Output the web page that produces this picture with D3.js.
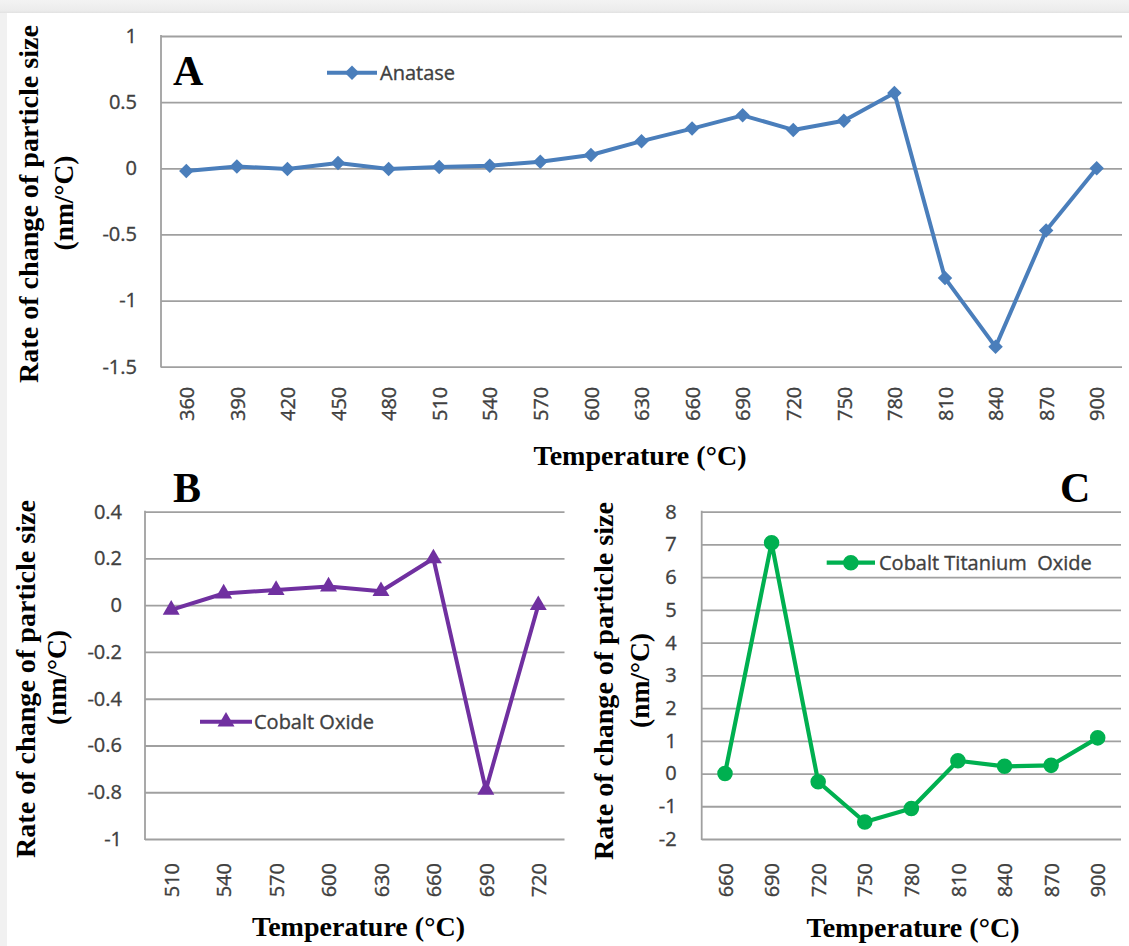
<!DOCTYPE html>
<html>
<head>
<meta charset="utf-8">
<script src="https://cdn.jsdelivr.net/npm/d3@7"></script>
<style>
  html, body { margin: 0; padding: 0; background: #ffffff; }
  svg { display: block; }
</style>
</head>
<body>
<script>
// ---------------- DATA ----------------
const tempsA = [360, 390, 420, 450, 480, 510, 540, 570, 600, 630, 660, 690, 720, 750, 780, 810, 840, 870, 900];
const anatase = [-0.02, 0.013, -0.005, 0.04, -0.005, 0.01, 0.02, 0.05, 0.1, 0.205, 0.3, 0.4, 0.29, 0.36, 0.57, -0.83, -1.35, -0.47, 0];
const ticksA = [1, 0.5, 0, -0.5, -1, -1.5];

const tempsB = [510, 540, 570, 600, 630, 660, 690, 720];
const cobaltOxide = [-0.02, 0.05, 0.065, 0.08, 0.06, 0.2, -0.79, 0];
const ticksB = [0.4, 0.2, 0, -0.2, -0.4, -0.6, -0.8, -1];

const tempsC = [660, 690, 720, 750, 780, 810, 840, 870, 900];
const cobaltTitaniumOxide = [0, 7.05, -0.25, -1.48, -1.07, 0.39, 0.22, 0.25, 1.09];
const ticksC = [8, 7, 6, 5, 4, 3, 2, 1, 0, -1, -2];

const seriesNames = ["Anatase", "Cobalt Oxide", "Cobalt Titanium  Oxide"];
const panelLetters = ["A", "B", "C"];
const yTitleLine1 = "Rate of change of particle size";
const yTitleLine2 = "(nm/°C)";
const xTitle = "Temperature (°C)";

// ---------------- LAYOUT ----------------
const W = 1129, H = 946;
const panels = [
  { temps: tempsA, values: anatase, ticks: ticksA, name: seriesNames[0], letter: panelLetters[0],
    left: 161, right: 1122, top: 36, bottom: 366.7, color: "#4A7EBB", marker: "diamond", lw: 4,
    letterX: 173, letterY: 85,
    legend: { x1: 327, x2: 377, y: 72.7, tx: 380 },
    yLabelGap: 24, xLabelGap: 20,
    xTitleX: 640, xTitleY: 465,
    yTitle: { b1: 38, b2: 73, cy1: 204, cy2: 203 } },
  { temps: tempsB, values: cobaltOxide, ticks: ticksB, name: seriesNames[1], letter: panelLetters[1],
    left: 145, right: 564.5, top: 511.7, bottom: 839, color: "#7030A0", marker: "triangle", lw: 4,
    letterX: 173, letterY: 502,
    legend: { x1: 200, x2: 252, y: 721.7, tx: 254 },
    yLabelGap: 23, xLabelGap: 24,
    xTitleX: 358.5, xTitleY: 936,
    yTitle: { b1: 35, b2: 65.5, cy1: 679, cy2: 677.5 } },
  { temps: tempsC, values: cobaltTitaniumOxide, ticks: ticksC, name: seriesNames[2], letter: panelLetters[2],
    left: 701.7, right: 1121, top: 511.7, bottom: 839, color: "#00B050", marker: "circle", lw: 4.2,
    letterX: 1060, letterY: 502,
    legend: { x1: 826.7, x2: 875, y: 562.7, tx: 879 },
    yLabelGap: 25, xLabelGap: 24,
    xTitleX: 913, xTitleY: 936.5,
    yTitle: { b1: 613, b2: 648.5, cy1: 681, cy2: 680.5 } }
];

const tickFont = "'Open Sans', 'Liberation Sans', Arial, sans-serif";
const titleFont = "'Liberation Serif', 'Times New Roman', serif";
const gridColor = "#a0a0a0";
const tickColor = "#404040";

const svg = d3.select("body").append("svg")
  .attr("width", W).attr("height", H)
  .attr("viewBox", `0 0 ${W} ${H}`);

// background frame
const defs = svg.append("defs");
const grad = defs.append("linearGradient").attr("id", "topband").attr("x1", 0).attr("y1", 0).attr("x2", 0).attr("y2", 1);
grad.append("stop").attr("offset", "0%").attr("stop-color", "#f3f3f3");
grad.append("stop").attr("offset", "80%").attr("stop-color", "#ececec");
grad.append("stop").attr("offset", "100%").attr("stop-color", "#e2e2e2");
svg.append("rect").attr("x", 0).attr("y", 0).attr("width", W).attr("height", H).attr("fill", "#ffffff");
svg.append("rect").attr("x", 0).attr("y", 0).attr("width", W).attr("height", 13).attr("fill", "url(#topband)");
svg.append("rect").attr("x", 0).attr("y", 13).attr("width", 7).attr("height", H - 13).attr("fill", "#f1f1f1");

function markerPath(type) {
  if (type === "diamond") return d3.symbol().type(d3.symbolSquare).size(105)();
  if (type === "triangle") return d3.symbol().type(d3.symbolTriangle).size(125)();
  return d3.symbol().type(d3.symbolCircle).size(190)();
}

function styleTick(sel) {
  sel.attr("fill", tickColor).attr("stroke", tickColor).attr("stroke-width", 0.35)
    .style("font-family", tickFont).style("font-size", "20px");
}

panels.forEach(p => {
  const g = svg.append("g");
  const x = d3.scalePoint().domain(p.temps).range([p.left, p.right]).padding(0.5);
  const y = d3.scaleLinear().domain([d3.min(p.ticks), d3.max(p.ticks)]).range([p.bottom, p.top]);

  // y axis with gridlines
  const yAxis = d3.axisLeft(y).tickValues(p.ticks).tickSize(-(p.right - p.left)).tickPadding(p.yLabelGap)
    .tickFormat(d => String(d));
  const ya = g.append("g").attr("transform", `translate(${p.left},0)`).call(yAxis);
  ya.select(".domain").remove();
  ya.selectAll(".tick line").attr("stroke", gridColor).attr("stroke-width", 1.8);
  styleTick(ya.selectAll(".tick text"));

  // vertical axis line
  g.append("line").attr("x1", p.left).attr("x2", p.left).attr("y1", p.top - 0.9).attr("y2", p.bottom + 0.9)
    .attr("stroke", gridColor).attr("stroke-width", 1.8);

  // x axis labels (rotated)
  const xAxis = d3.axisBottom(x).tickSize(0);
  const xa = g.append("g").attr("transform", `translate(0,${p.bottom})`).call(xAxis);
  xa.select(".domain").remove();
  const xt = xa.selectAll(".tick text")
    .attr("transform", "rotate(-90)")
    .attr("x", -p.xLabelGap).attr("y", 0).attr("dy", "0.36em")
    .style("text-anchor", "end");
  styleTick(xt);

  // series line
  const line = d3.line().x((d, i) => x(p.temps[i])).y(d => y(d));
  g.append("path").datum(p.values).attr("d", line)
    .attr("fill", "none").attr("stroke", p.color).attr("stroke-width", p.lw)
    .attr("stroke-linejoin", "round");

  // markers
  const mp = markerPath(p.marker);
  g.selectAll("path.mk").data(p.values).enter().append("path").attr("class", "mk")
    .attr("d", mp)
    .attr("transform", (d, i) => `translate(${x(p.temps[i])},${y(d)})${p.marker === "diamond" ? " rotate(45)" : ""}`)
    .attr("fill", p.color);

  // legend
  g.append("line").attr("x1", p.legend.x1).attr("x2", p.legend.x2).attr("y1", p.legend.y).attr("y2", p.legend.y)
    .attr("stroke", p.color).attr("stroke-width", p.lw);
  g.append("path").attr("d", mp)
    .attr("transform", `translate(${(p.legend.x1 + p.legend.x2) / 2},${p.legend.y})${p.marker === "diamond" ? " rotate(45)" : ""}`)
    .attr("fill", p.color);
  const lt = g.append("text").attr("x", p.legend.tx).attr("y", p.legend.y).attr("dy", "0.35em")
    .style("white-space", "pre")
    .text(p.name);
  styleTick(lt);

  // panel letter
  g.append("text").attr("x", p.letterX).attr("y", p.letterY)
    .style("font-family", titleFont).style("font-weight", "bold").style("font-size", "42px")
    .attr("fill", "#000").text(p.letter);

  // x title
  g.append("text").attr("x", p.xTitleX).attr("y", p.xTitleY).attr("text-anchor", "middle")
    .attr("textLength", 213).attr("lengthAdjust", "spacingAndGlyphs")
    .style("font-family", titleFont).style("font-weight", "bold").style("font-size", "27px")
    .attr("fill", "#000").text(xTitle);

  // y title (two lines)
  g.append("text").attr("transform", `translate(${p.yTitle.b1},${p.yTitle.cy1}) rotate(-90)`)
    .attr("text-anchor", "middle")
    .attr("textLength", 358).attr("lengthAdjust", "spacingAndGlyphs")
    .style("font-family", titleFont).style("font-weight", "bold").style("font-size", "27px")
    .attr("fill", "#000").text(yTitleLine1);
  g.append("text").attr("transform", `translate(${p.yTitle.b2},${p.yTitle.cy2}) rotate(-90)`)
    .attr("text-anchor", "middle")
    .attr("textLength", 95).attr("lengthAdjust", "spacingAndGlyphs")
    .style("font-family", titleFont).style("font-weight", "bold").style("font-size", "27px")
    .attr("fill", "#000").text(yTitleLine2);
});
</script>
</body>
</html>
